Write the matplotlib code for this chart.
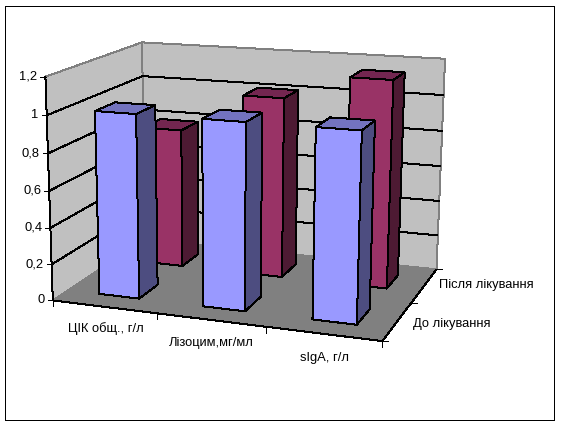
import numpy as np
import matplotlib
matplotlib.use("Agg")
import matplotlib.pyplot as plt

categories = ["ЦІК общ., г/л", "Лізоцим,мг/мл", "sIgA, г/л"]
series_names = ["До лікування", "Після лікування"]
before = [1.0, 1.0, 1.0]
after = [0.79, 1.01, 1.145]
z_ticks = [0, 0.2, 0.4, 0.6, 0.8, 1.0, 1.2]
z_labels = ["0", "0,2", "0,4", "0,6", "0,8", "1", "1,2"]

# view calibration: model (x, y, z) -> picture pixel, perspective like Excel's 3-D view
anchors = [((0, 0, 0), (54, 298)), ((3, 0, 0), (384, 342)), ((3, 2, 0), (436, 267)),
           ((0, 2, 0), (144, 242)), ((0, 0, 1.2), (45, 77)), ((0, 2, 1.2), (144, 41)),
           ((3, 2, 1.2), (445, 59)), ((0.31, 0.31, 0), (99, 293)), ((0.31, 0.31, 1), (94.5, 111)),
           ((2.31, 0.31, 0), (313, 320)), ((2.31, 0.31, 1), (315, 128))]
A, b = [], []
for (X, Y, Z), (u, v) in anchors:
    A.append([X, Y, Z, 1, 0, 0, 0, 0, -u*X, -u*Y, -u*Z]); b.append(u)
    A.append([0, 0, 0, 0, X, Y, Z, 1, -v*X, -v*Y, -v*Z]); b.append(v)
sol = np.linalg.lstsq(np.array(A, float), np.array(b, float), rcond=None)[0]
P = np.append(sol, 1.0).reshape(3, 4)

def proj(x, y, z):
    h = P @ np.array([x, y, z, 1.0])
    return h[0]/h[2], h[1]/h[2]

plt.rcParams['font.family'] = ['Liberation Sans', 'DejaVu Sans']
fig = plt.figure(figsize=(5.61, 4.25), dpi=100)
ax = fig.add_axes([0, 0, 1, 1])
ax.set_xlim(0, 561); ax.set_ylim(425, 0); ax.axis("off")
LW = 0.72
FS = 9.3

def poly(pts, fc, ec="black", lw=LW, zorder=2):
    xy = [proj(*p) for p in pts]
    ax.fill(*zip(*xy), facecolor=fc, edgecolor=ec, linewidth=lw, zorder=zorder,
            antialiased=False, joinstyle="miter")

def seg(p, q, color="black", lw=LW, zorder=3):
    a, c = proj(*p), proj(*q)
    ax.plot([a[0], c[0]], [a[1], c[1]], color=color, lw=lw, zorder=zorder,
            antialiased=False, solid_capstyle="butt")

# outer frame
ax.plot([5.5, 554.5, 554.5, 5.5, 5.5], [5.5, 5.5, 419.5, 419.5, 5.5], color="black", lw=LW, antialiased=False)

ztop = z_ticks[-1]
nx, ny = len(categories), len(series_names)
# walls and floor
poly([(0, 0, 0), (0, ny, 0), (0, ny, ztop), (0, 0, ztop)], "#C0C0C0", ec="#808080", zorder=1)
poly([(0, ny, 0), (nx, ny, 0), (nx, ny, ztop), (0, ny, ztop)], "#C0C0C0", ec="#808080", zorder=1)
poly([(0, 0, 0), (nx, 0, 0), (nx, ny, 0), (0, ny, 0)], "#808080", ec="#808080", zorder=1.5)
# gridlines
for z in z_ticks[1:-1]:
    seg((0, 0, z), (0, ny, z), zorder=1.6)
    seg((0, ny, z), (nx, ny, z), zorder=1.6)
# axes
seg((0, 0, 0), (0, 0, ztop), zorder=1.7)
seg((0, 0, 0), (nx, 0, 0), zorder=1.7)
seg((nx, 0, 0), (nx, ny, 0), zorder=1.7)
for z, lab in zip(z_ticks, z_labels):
    x0, y0 = proj(0, 0, z)
    ax.plot([x0-5, x0+1], [y0, y0], color="black", lw=LW, antialiased=False, zorder=1.7)
    ax.text(x0-8, y0, lab, ha="right", va="center", fontsize=FS, color="black")
for i in range(nx+1):
    x0, y0 = proj(i, 0, 0)
    ax.plot([x0, x0], [y0, y0+6], color="black", lw=LW, antialiased=False, zorder=1.7)
for j in range(ny+1):
    x0, y0 = proj(nx, j, 0)
    ax.plot([x0, x0+6], [y0, y0], color="black", lw=LW, antialiased=False, zorder=1.7)

# bars
x1, x2 = 0.31, 0.70
y1, y2 = 0.30, 0.71
styles = [("#9999FF", "#7373BF", "#4D4D80"), ("#993366", "#732650", "#4D1A33")]
zo = 4
for j, vals in reversed(list(enumerate([before, after]))):
    front, top, side = styles[j]
    for i, v in enumerate(vals):
        xa, xb, ya, yb = i+x1, i+x2, j+y1, j+y2
        poly([(xa, ya, 0), (xb, ya, 0), (xb, ya, v), (xa, ya, v)], front, zorder=zo)
        poly([(xb, ya, 0), (xb, yb, 0), (xb, yb, v), (xb, ya, v)], side, zorder=zo)
        poly([(xa, ya, v), (xb, ya, v), (xb, yb, v), (xa, yb, v)], top, zorder=zo)
        zo += 1

# category and series labels
cat_pos = [(105.5, 329), (211.5, 343), (324.5, 358)]
for name, (tx, ty) in zip(categories, cat_pos):
    ax.text(tx, ty, name, ha="center", va="center", fontsize=FS, color="black")
ser_pos = [(413, 324), (439.5, 285)]
for name, (tx, ty) in zip(series_names, ser_pos):
    ax.text(tx, ty, name, ha="left", va="center", fontsize=FS, color="black")

fig.savefig("out.png", dpi=100, facecolor="white")
